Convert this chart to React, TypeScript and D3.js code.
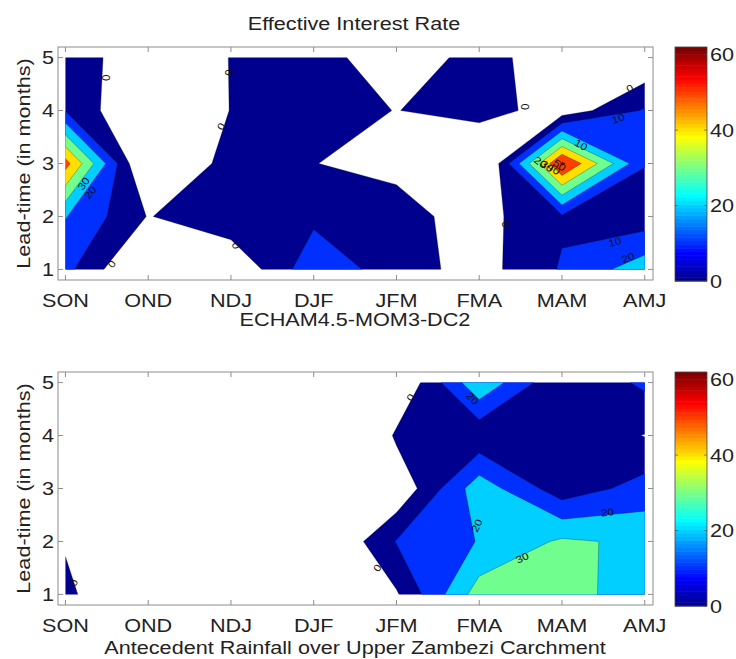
import React from "react";
import * as d3 from "d3";

// ---------- data ----------
const seasons = ["SON", "OND", "NDJ", "DJF", "JFM", "FMA", "MAM", "AMJ"];
const leadTimes = [1, 2, 3, 4, 5];
const levels = [0, 10, 20, 30, 40, 50, 60];
const colorbarTicks = [0, 20, 40, 60];
const colorMax = 62;

// ECHAM4.5-MOM3-DC2 (values per season, one array per lead-time)
const echamLead1 = [13, -15, -10, 17, 5, -4.3, 11, 26];
const echamLead2 = [20.5, -0.5, 7.8, 7.7, 3.0, -3.6, 8.5, 4];
const echamLead3 = [54, -16, 4.8, 0.13, -2, -19, 62, 10.5];
const echamLead4 = [9.5, -13, 0.3, 5, -0.3, 5.7, -6.4, 11];
const echamLead5 = [5, -6, 0.2, 4, -6, 3.4, -5.1, -10];

// Antecedent Rainfall over Upper Zambezi Carchment
const rainLead1 = [3, -17, -30, -20, -1.1, 35, 33, 26];
const rainLead2 = [-1.2, -30, -30, -15.8, 10.5, 20.5, 31.6, 28];
const rainLead3 = [-30, -30, -30, -30, -8.7, 26, 4, 14];
const rainLead4 = [-30, -30, -30, -38, 2, 2.1, 6, -0.3];
const rainLead5 = [-40, -40, -40, -40, -11.6, 28.4, 0.5, 12];

// contour labels: [season position (1-based), lead-time, text, angle]
const echamLabels: [number, number, string, number][] = [
  [1.56, 1.1, "0", -52],
  [1.48, 4.62, "0", 90],
  [2.97, 4.72, "0", 90],
  [2.88, 3.7, "0", -60],
  [3.06, 1.45, "0", 70],
  [6.55, 4.07, "0", 90],
  [6.32, 1.85, "0", 90],
  [7.82, 4.42, "0", -30],
  [7.68, 3.85, "10", -20],
  [7.64, 1.52, "10", -15],
  [7.8, 1.22, "20", -20],
  [6.74, 3.02, "20", 35],
  [6.82, 2.95, "30", 35],
  [6.9, 2.9, "40", 35],
  [6.97, 2.97, "50", 35],
  [7.23, 3.35, "10", 30],
  [1.22, 2.62, "30", -55],
  [1.3, 2.45, "20", -55],
];
const rainLabels: [number, number, string, number][] = [
  [1.1, 1.22, "0", -70],
  [4.77, 1.5, "0", -60],
  [5.17, 4.72, "0", -60],
  [5.92, 4.7, "20", 45],
  [5.97, 2.3, "20", -65],
  [7.55, 2.55, "20", -5],
  [6.52, 1.69, "30", -25],
];

// ---------- helpers ----------
function jet64(): string[] {
  const n = 16, m = 64;
  const u: number[] = [];
  for (let i = 1; i <= n; i++) u.push(i / n);
  for (let i = 0; i < n - 1; i++) u.push(1);
  for (let i = n; i >= 1; i--) u.push(i / n);
  const r = new Array(m).fill(0), g = new Array(m).fill(0), b = new Array(m).fill(0);
  for (let i = 0; i < u.length; i++) {
    const gi = 8 + i, ri = gi + n, bi = gi - n;
    if (gi >= 0 && gi < m) g[gi] = u[i];
    if (ri >= 0 && ri < m) r[ri] = u[i];
    if (bi >= 0 && bi < m) b[bi] = u[i];
  }
  return r.map((_, k) => d3.rgb(r[k] * 255, g[k] * 255, b[k] * 255).formatHex());
}
const JET = jet64();
const colorOf = (v: number) => JET[Math.max(0, Math.min(63, Math.floor((v / colorMax) * 64)))];

const FONT = "'Liberation Sans', Arial, Helvetica, sans-serif";
const SX = 1.17;
const FS = 18.5;
const AXIS_COLOR = "#8c8c8c";

function T({ x, y, anchor = "middle", size = FS, rotate = 0, children, fill = "#222" }: any) {
  return (
    <text
      transform={`translate(${x},${y}) rotate(${rotate}) scale(${SX},1)`}
      textAnchor={anchor}
      fontSize={size}
      fill={fill}
    >
      {children}
    </text>
  );
}

const X0 = 58, X1 = 653;
const CB0 = 675, CB1 = 707;

function Panel({ grid, top, bottom, xlabel, xlabelY, labels, id }: any) {
  const x = d3.scaleLinear().domain([0.91, 8.1]).range([X0, X1]);
  const y = d3.scaleLinear().domain([0.8, 5.2]).range([bottom, top]);
  const values: number[] = grid.flat();
  const contours = d3.contours().size([seasons.length, leadTimes.length]).thresholds(levels)(values);
  const proj = d3.geoTransform({
    point: function (px: number, py: number) {
      (this as any).stream.point(x(px + 0.5), y(py + 0.5));
    },
  });
  const path = d3.geoPath(proj);
  const cb = d3.scaleLinear().domain([0, colorMax]).range([bottom + 1, top]);
  const clipId = `clip-${id}`;
  const tickLen = 5;
  return (
    <g>
      <defs>
        <clipPath id={clipId}>
          <rect x={x(1)} y={y(5)} width={x(8) - x(1)} height={y(1) - y(5)} />
        </clipPath>
      </defs>
      <g clipPath={`url(#${clipId})`}>
        {contours.map((c: any, i: number) => (
          <path key={"f" + i} d={path(c) || ""} fill={colorOf(c.value)} stroke="none" />
        ))}
        {contours.map((c: any, i: number) => (
          <path key={"s" + i} d={path(c) || ""} fill="none" stroke="#1a1a1a" strokeWidth={0.6} strokeOpacity={0.5} />
        ))}
      </g>
      {labels.map((l: any, i: number) => (
        <T key={"l" + i} x={x(l[0])} y={y(l[1])} rotate={l[3]} size={10} fill="#111">
          <tspan dy="0.35em">{l[2]}</tspan>
        </T>
      ))}
      {/* axes box */}
      <rect x={X0} y={top} width={X1 - X0} height={bottom - top} fill="none" stroke={AXIS_COLOR} strokeWidth={1} />
      {seasons.map((s, i) => (
        <g key={s}>
          <line x1={x(i + 1)} x2={x(i + 1)} y1={bottom} y2={bottom - tickLen} stroke={AXIS_COLOR} />
          <line x1={x(i + 1)} x2={x(i + 1)} y1={top} y2={top + tickLen} stroke={AXIS_COLOR} />
          <T x={x(i + 1)} y={bottom + 26.5}>{s}</T>
        </g>
      ))}
      {leadTimes.map((l) => (
        <g key={l}>
          <line x1={X0} x2={X0 + tickLen} y1={y(l)} y2={y(l)} stroke={AXIS_COLOR} />
          <line x1={X1} x2={X1 - tickLen} y1={y(l)} y2={y(l)} stroke={AXIS_COLOR} />
          <T x={54} y={y(l) + 6.6} anchor="end">{l}</T>
        </g>
      ))}
      <T x={29.5} y={(top + bottom) / 2} rotate={-90}>Lead-time (in months)</T>
      <T x={355} y={xlabelY}>{xlabel}</T>
      {/* colorbar */}
      {JET.map((c, i) => {
        const v0 = (i * colorMax) / 64, v1 = ((i + 1) * colorMax) / 64;
        return <rect key={"cb" + i} x={CB0} width={CB1 - CB0} y={cb(v1)} height={cb(v0) - cb(v1) + 0.5} fill={c} />;
      })}
      <rect x={CB0} y={top} width={CB1 - CB0} height={bottom + 1 - top} fill="none" stroke="#444" strokeWidth={0.8} />
      {colorbarTicks.map((t) => (
        <g key={"cbt" + t}>
          <line x1={CB0} x2={CB0 + 3} y1={cb(t)} y2={cb(t)} stroke="#444" strokeWidth={0.6} />
          <line x1={CB1} x2={CB1 - 3} y1={cb(t)} y2={cb(t)} stroke="#444" strokeWidth={0.6} />
          <T x={710} y={cb(t) + 6.6} anchor="start">{t}</T>
        </g>
      ))}
    </g>
  );
}

export default function App() {
  const echamGrid = [echamLead1, echamLead2, echamLead3, echamLead4, echamLead5];
  const rainGrid = [rainLead1, rainLead2, rainLead3, rainLead4, rainLead5];
  return (
    <svg
      width={736}
      height={659}
      style={{ position: "absolute", left: 0, top: 0, background: "#fff" }}
      fontFamily={FONT}
    >
      <rect x={0} y={0} width={736} height={659} fill="#fff" />
      <T x={354} y={30} size={FS}>Effective Interest Rate</T>
      <Panel id="a" grid={echamGrid} top={47} bottom={280} xlabel="ECHAM4.5-MOM3-DC2" xlabelY={325.5} labels={echamLabels} />
      <Panel id="b" grid={rainGrid} top={372} bottom={605} xlabel="Antecedent Rainfall over Upper Zambezi Carchment" xlabelY={653.5} labels={rainLabels} />
    </svg>
  );
}
